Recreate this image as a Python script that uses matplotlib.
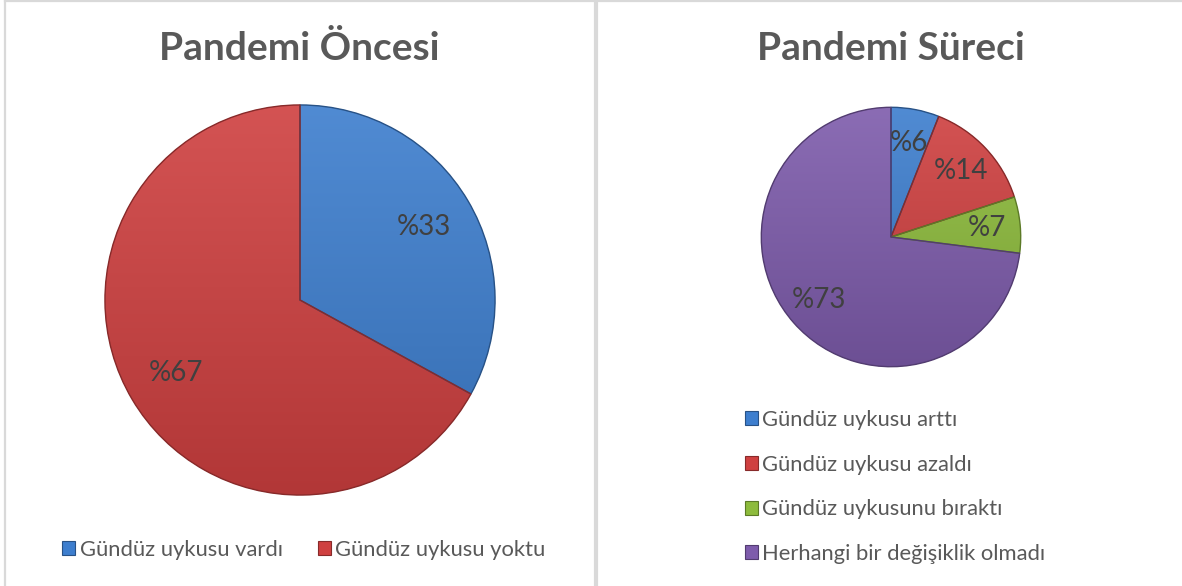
import matplotlib
matplotlib.use("Agg")
import matplotlib.pyplot as plt
import numpy as np
from matplotlib.patches import Patch, Wedge
from matplotlib.lines import Line2D
import matplotlib.colors as mcolors

plt.rcParams['font.family'] = ['Lato', 'DejaVu Sans']

titles = ["Pandemi Öncesi", "Pandemi Süreci"]
before_labels = ["Gündüz uykusu vardı", "Gündüz uykusu yoktu"]
before_values = [33, 67]
during_labels = ["Gündüz uykusu arttı", "Gündüz uykusu azaldı",
                 "Gündüz uykusunu bıraktı", "Herhangi bir değişiklik olmadı"]
during_values = [6, 14, 7, 73]

before_colors = ["#3D7ECE", "#CF4040"]
during_colors = ["#3D7ECE", "#CF4040", "#8DBB3C", "#7E5CAC"]

W, H = 1182, 586
fig = plt.figure(figsize=(W / 100, H / 100), dpi=100)
fig.patch.set_facecolor("white")

# panel borders
border = "#D9D9D9"
fig.add_artist(Line2D([4.5 / W, 4.5 / W], [0, 1], color=border, lw=1.6, transform=fig.transFigure))
fig.add_artist(Line2D([595.5 / W, 595.5 / W], [0, 1], color=border, lw=3.0, transform=fig.transFigure))
fig.add_artist(Line2D([4.5 / W, 1], [1 - 1 / H, 1 - 1 / H], color=border, lw=1.6, transform=fig.transFigure))


def px_axes(cx, cy, r):
    return fig.add_axes([(cx - r) / W, (H - cy - r) / H, 2 * r / W, 2 * r / H])


def shade(color, f):
    c = np.array(mcolors.to_rgb(color))
    if f >= 1:
        return c + (1 - c) * (f - 1)
    return c * f


def draw_pie(ax, values, colors):
    wedges, texts, autotexts = ax.pie(
        values, colors=colors, startangle=90, counterclock=False,
        autopct=lambda p: "%" + f"{p:.0f}", pctdistance=0.74,
        wedgeprops=dict(linewidth=0),
        textprops=dict(fontsize=20, color="#404040"))
    t = np.linspace(0, 1, 256)[:, None]
    for w, col in zip(wedges, colors):
        top = shade(col, 1.10)
        bot = shade(col, 0.86)
        grad = top[None, None, :] * (1 - t[:, :, None]) + bot[None, None, :] * t[:, :, None]
        grad = np.repeat(grad, 2, axis=1)
        im = ax.imshow(grad, extent=[-1, 1, -1, 1], origin="upper", zorder=1.5,
                       interpolation="bilinear")
        im.set_clip_path(w)
        edge = Wedge(w.center, w.r, w.theta1, w.theta2, fill=False,
                     edgecolor=shade(col, 0.65), linewidth=1.0, zorder=2)
        ax.add_patch(edge)
    for a in autotexts:
        a.set_zorder(5)
    ax.set_xlim(-1.01, 1.01)
    ax.set_ylim(-1.01, 1.01)
    ax.set_aspect("equal")
    ax.axis("off")
    return wedges


ax1 = px_axes(300, 300, 197)
draw_pie(ax1, before_values, before_colors)
ax2 = px_axes(891, 237, 131)
draw_pie(ax2, during_values, during_colors)

title_kw = dict(fontsize=28, fontweight="bold", color="#595959", ha="center", va="center")
fig.text(299 / W, 1 - 48 / H, titles[0], **title_kw)
fig.text(891 / W, 1 - 48 / H, titles[1], **title_kw)

leg_kw = dict(frameon=False, fontsize=15.8, handlelength=0.6, handleheight=0.6,
              handletextpad=0.2, labelcolor="#595959")

h1 = [Patch(facecolor=c, edgecolor=shade(c, 0.65), lw=0.8) for c in before_colors]
fig.legend(h1, before_labels, loc="center", bbox_to_anchor=(304 / W, 1 - 550 / H),
           ncol=2, columnspacing=1.6, **leg_kw)

h2 = [Patch(facecolor=c, edgecolor=shade(c, 0.65), lw=0.8) for c in during_colors]
fig.legend(h2, during_labels, loc="upper left", bbox_to_anchor=(725 / W, 1 - 390 / H),
           ncol=1, labelspacing=1.13, **leg_kw)

fig.savefig("out.png", dpi=100, facecolor="white")
